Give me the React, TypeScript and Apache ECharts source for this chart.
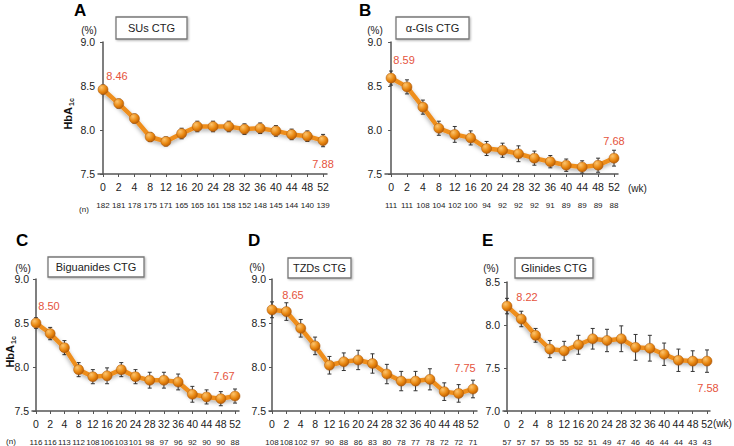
import React, { useEffect, useRef } from "react";
import * as echarts from "echarts";

const weeks = ["0", "2", "4", "8", "12", "16", "20", "24", "28", "32", "36", "40", "44", "48", "52"];

const suValues = [8.46, 8.30, 8.13, 7.92, 7.87, 7.96, 8.04, 8.04, 8.04, 8.01, 8.02, 7.99, 7.95, 7.93, 7.88];
const suErr = [0.05, 0.05, 0.05, 0.05, 0.05, 0.06, 0.06, 0.06, 0.06, 0.06, 0.06, 0.06, 0.06, 0.06, 0.07];
const suN = [182, 181, 178, 175, 171, 165, 165, 161, 158, 152, 148, 145, 144, 140, 139];

const agiValues = [8.59, 8.49, 8.26, 8.02, 7.95, 7.91, 7.79, 7.77, 7.73, 7.68, 7.64, 7.60, 7.58, 7.60, 7.68];
const agiErr = [0.08, 0.08, 0.08, 0.08, 0.09, 0.08, 0.08, 0.08, 0.09, 0.08, 0.07, 0.07, 0.07, 0.08, 0.09];
const agiN = [111, 111, 108, 104, 102, 100, 94, 92, 92, 92, 91, 89, 89, 89, 88];

const bigValues = [8.50, 8.38, 8.22, 7.97, 7.89, 7.90, 7.97, 7.89, 7.85, 7.85, 7.83, 7.69, 7.66, 7.64, 7.67];
const bigErr = [0.06, 0.07, 0.08, 0.08, 0.08, 0.09, 0.08, 0.08, 0.09, 0.09, 0.09, 0.09, 0.08, 0.08, 0.08];
const bigN = [116, 116, 113, 112, 108, 106, 103, 101, 98, 97, 96, 92, 90, 90, 88];

const tzdValues = [8.65, 8.63, 8.44, 8.24, 8.02, 8.06, 8.08, 8.04, 7.92, 7.84, 7.84, 7.86, 7.72, 7.70, 7.75];
const tzdErr = [0.09, 0.10, 0.10, 0.10, 0.10, 0.10, 0.11, 0.11, 0.11, 0.11, 0.11, 0.12, 0.10, 0.10, 0.10];
const tzdN = [108, 108, 102, 97, 90, 88, 86, 83, 80, 78, 77, 78, 72, 72, 71];

const gliValues = [8.22, 8.07, 7.88, 7.72, 7.70, 7.77, 7.84, 7.82, 7.84, 7.74, 7.73, 7.66, 7.59, 7.58, 7.58];
const gliErr = [0.09, 0.09, 0.08, 0.10, 0.11, 0.11, 0.12, 0.13, 0.15, 0.15, 0.15, 0.13, 0.13, 0.12, 0.13];
const gliN = [57, 57, 57, 55, 55, 52, 51, 49, 47, 46, 46, 44, 44, 43, 43];

const FONT = '"Liberation Sans", Arial, Helvetica, sans-serif';
const RED = "#E5533D";

type Panel = {
  letter: string;
  title: string;
  values: number[];
  err: number[];
  n: number[];
  grid: { left: number; top: number; width: number; height: number };
  xMin: number;
  xMax: number;
  yMin: number;
  yMax: number;
  firstOff: number[];
  lastOff: number[];
  letterPos: number[];
  box: number[];
  pct: number[];
  hba?: number[];
  wk?: number[];
  nLabel?: number[];
};

const panels: Panel[] = [
  {
    letter: "A", title: "SUs CTG", values: suValues, err: suErr, n: suN,
    grid: { left: 98, top: 42, width: 229, height: 132 }, xMin: -0.32, xMax: 14.25, yMin: 7.5, yMax: 9.0,
    firstOff: [14, -14], lastOff: [0, 23], letterPos: [74, 2], box: [116, 17, 71, 22], pct: [89, 30],
    hba: [68, 107], nLabel: [84, 209],
  },
  {
    letter: "B", title: "α-GIs CTG", values: agiValues, err: agiErr, n: agiN,
    grid: { left: 385, top: 42, width: 233, height: 132 }, xMin: -0.38, xMax: 14.25, yMin: 7.5, yMax: 9.0,
    firstOff: [13, -18], lastOff: [0, -17], letterPos: [359, 2], box: [396, 17, 73, 22], pct: [375, 30],
    wk: [628, 188],
  },
  {
    letter: "C", title: "Biguanides CTG", values: bigValues, err: bigErr, n: bigN,
    grid: { left: 32, top: 279, width: 207, height: 132 }, xMin: -0.28, xMax: 14.28, yMin: 7.5, yMax: 9.0,
    firstOff: [13, -17], lastOff: [-11, -20], letterPos: [16, 232], box: [48, 257, 96, 20], pct: [23, 268],
    hba: [10, 345], nLabel: [11, 441],
  },
  {
    letter: "D", title: "TZDs CTG", values: tzdValues, err: tzdErr, n: tzdN,
    grid: { left: 269, top: 279, width: 208, height: 132 }, xMin: -0.21, xMax: 14.28, yMin: 7.5, yMax: 9.0,
    firstOff: [21, -15], lastOff: [-8, -21], letterPos: [248, 232], box: [288, 258, 63, 20], pct: [257, 267],
  },
  {
    letter: "E", title: "Glinides CTG", values: gliValues, err: gliErr, n: gliN,
    grid: { left: 503, top: 282, width: 207, height: 130 }, xMin: -0.28, xMax: 14.21, yMin: 7.0, yMax: 8.5,
    firstOff: [20, -9], lastOff: [1, 27], letterPos: [482, 232], box: [515, 258, 78, 20], pct: [491, 268],
    wk: [713, 423],
  },
];

const idx = weeks.map((_, i) => i);

function buildOption() {
  const grid: any[] = [];
  const xAxis: any[] = [];
  const yAxis: any[] = [];
  const series: any[] = [];
  const graphic: any[] = [];

  panels.forEach((p, gi) => {
    grid.push({ ...p.grid, containLabel: false });
    xAxis.push({
      type: "value", gridIndex: gi, min: p.xMin, max: p.xMax,
      axisLine: { show: true, lineStyle: { color: "#555", width: 1.5 } },
      axisTick: { show: true, length: 3, customValues: idx, lineStyle: { color: "#555", width: 1 } },
      axisLabel: {
        show: true, customValues: idx, margin: 7, fontSize: 10.5, color: "#222", fontFamily: FONT,
        formatter: (v: number) => weeks[Math.round(v)],
      },
      splitLine: { show: false },
    });
    xAxis.push({
      type: "value", gridIndex: gi, min: p.xMin, max: p.xMax, position: "bottom", offset: 23,
      axisLine: { show: false }, axisTick: { show: false },
      axisLabel: {
        show: true, customValues: idx, margin: 4, fontSize: 8, color: "#222", fontFamily: FONT,
        formatter: (v: number) => String(p.n[Math.round(v)]),
      },
      splitLine: { show: false },
    });
    yAxis.push({
      type: "value", gridIndex: gi, min: p.yMin, max: p.yMax, interval: 0.5,
      axisLine: { show: true, lineStyle: { color: "#555", width: 1.5 } },
      axisTick: { show: true, length: 3, lineStyle: { color: "#555", width: 1 } },
      axisLabel: { margin: 3, fontSize: 10.5, color: "#222", fontFamily: FONT, formatter: (v: number) => v.toFixed(1) },
      splitLine: { show: false },
    });

    series.push({
      type: "custom",
      xAxisIndex: gi * 2, yAxisIndex: gi, z: 2,
      data: p.values.map((v, i) => [i, v, p.err[i]]),
      encode: { x: 0, y: 1 },
      renderItem: (params: any, api: any) => {
        const x = api.value(0), y = api.value(1), e = api.value(2);
        const top = api.coord([x, y + e]);
        const bot = api.coord([x, y - e]);
        const cx = top[0];
        const style = { stroke: "#333", lineWidth: 1 };
        return {
          type: "group",
          children: [
            { type: "line", shape: { x1: cx, y1: top[1], x2: cx, y2: bot[1] }, style },
            { type: "line", shape: { x1: cx - 2, y1: top[1], x2: cx + 2, y2: top[1] }, style },
            { type: "line", shape: { x1: cx - 2, y1: bot[1], x2: cx + 2, y2: bot[1] }, style },
          ],
        };
      },
    });

    const last = p.values.length - 1;
    series.push({
      type: "line",
      xAxisIndex: gi * 2, yAxisIndex: gi, z: 3,
      symbol: "circle", symbolSize: 10,
      itemStyle: {
        color: new echarts.graphic.RadialGradient(0.35, 0.3, 0.75, [
          { offset: 0, color: "#FCC46E" },
          { offset: 0.6, color: "#E8860F" },
          { offset: 1, color: "#B85C05" },
        ]),
        borderColor: "#A9560A", borderWidth: 0.5,
      },
      lineStyle: {
        color: "#EE8E1F", width: 4.5,
        shadowBlur: 4, shadowColor: "rgba(0,0,0,0.35)", shadowOffsetY: 2,
      },
      data: p.values.map((v, i) => {
        const item: any = { value: [i, v] };
        if (i === 0 || i === last) {
          item.label = {
            show: true, position: "inside", offset: i === 0 ? p.firstOff : p.lastOff,
            formatter: () => v.toFixed(2), color: RED, fontSize: 11, fontFamily: FONT,
          };
        }
        return item;
      }),
    });

    graphic.push({
      type: "text", left: p.letterPos[0], top: p.letterPos[1],
      style: { text: p.letter, font: `bold 17px ${FONT}`, fill: "#000" },
    });
    graphic.push({
      type: "rect", shape: { x: p.box[0], y: p.box[1], width: p.box[2], height: p.box[3] },
      style: { fill: "#fff", stroke: "#777", lineWidth: 1.3, shadowBlur: 2, shadowColor: "rgba(0,0,0,0.3)", shadowOffsetX: 1, shadowOffsetY: 1 },
    });
    graphic.push({
      type: "text", x: p.box[0] + p.box[2] / 2, y: p.box[1] + p.box[3] / 2,
      style: { text: p.title, font: `11px ${FONT}`, fill: "#222", align: "center", verticalAlign: "middle" },
    });
    graphic.push({
      type: "text", x: p.pct[0], y: p.pct[1],
      style: { text: "(%)", font: `10px ${FONT}`, fill: "#222", align: "center", verticalAlign: "middle" },
    });
    if (p.hba) {
      graphic.push({
        type: "group", x: p.hba[0], y: p.hba[1], rotation: Math.PI / 2,
        children: [
          { type: "text", x: 0, y: 0, style: { text: "HbA", font: `bold 11px ${FONT}`, fill: "#111", align: "right", verticalAlign: "middle" } },
          { type: "text", x: 1, y: 3, style: { text: "1c", font: `bold 7px ${FONT}`, fill: "#111", align: "left", verticalAlign: "middle" } },
        ],
      });
    }
    if (p.wk) {
      graphic.push({
        type: "text", x: p.wk[0], y: p.wk[1],
        style: { text: "(wk)", font: `10px ${FONT}`, fill: "#222", align: "left", verticalAlign: "middle" },
      });
    }
    if (p.nLabel) {
      graphic.push({
        type: "text", x: p.nLabel[0], y: p.nLabel[1],
        style: { text: "(n)", font: `8px ${FONT}`, fill: "#222", align: "center", verticalAlign: "middle" },
      });
    }
  });

  return {
    animation: false,
    backgroundColor: "#fff",
    textStyle: { fontFamily: FONT },
    grid, xAxis, yAxis, series, graphic,
  };
}

export default function App() {
  const ref = useRef<HTMLDivElement>(null);
  useEffect(() => {
    if (!ref.current) return;
    const chart = echarts.init(ref.current, undefined, { renderer: "svg" });
    chart.setOption(buildOption() as any);
    return () => chart.dispose();
  }, []);
  return <div ref={ref} style={{ position: "fixed", left: 0, top: 0, width: 734, height: 446 }} />;
}
